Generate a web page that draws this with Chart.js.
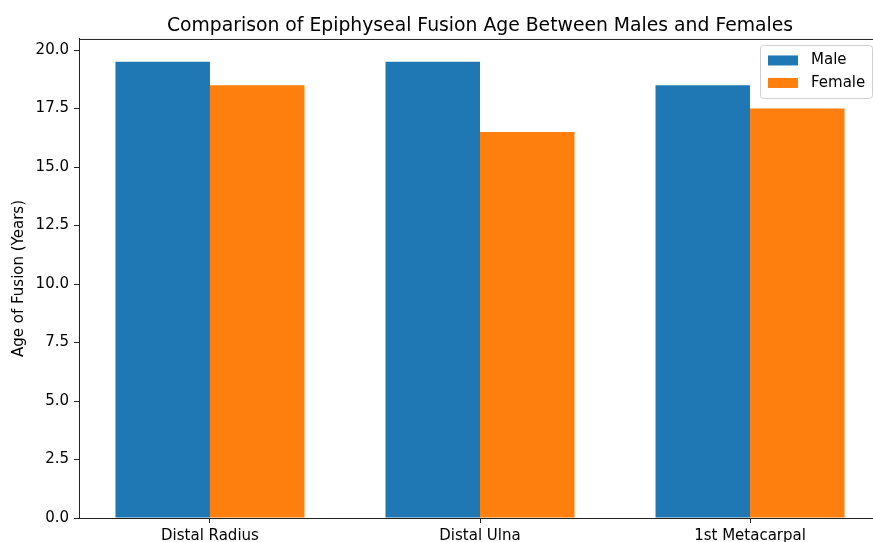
<!DOCTYPE html>
<html>
<head>
<meta charset="utf-8">
<script src="https://cdn.jsdelivr.net/npm/chart.js@4"></script>
<style>
  html, body { margin: 0; padding: 0; background: #fff; overflow: hidden; }
  canvas { display: block; }
</style>
</head>
<body>
<canvas id="fusion-chart" width="895" height="570"></canvas>
<script>
const categories = ["Distal Radius", "Distal Ulna", "1st Metacarpal"];
const maleAges = [19.5, 19.5, 18.5];
const femaleAges = [18.5, 16.5, 17.5];
const yTicks = [0, 2.5, 5, 7.5, 10, 12.5, 15, 17.5, 20];

const FONT = "'DejaVu Sans', sans-serif";

// matplotlib-like frame (all four spines) and a boxed legend inside the axes
const framePlugin = {
  id: "frame",
  afterDraw(chart) {
    const { ctx, chartArea } = chart;
    ctx.save();
    ctx.strokeStyle = "#222";
    ctx.lineWidth = 1;
    ctx.strokeRect(chartArea.left + 0.5, chartArea.top + 0.5,
      chartArea.right - chartArea.left, chartArea.bottom - chartArea.top);

    const boxW = 112, boxH = 53;
    const x0 = chartArea.right - 9 - boxW;
    const y0 = chartArea.top + 6;
    ctx.fillStyle = "rgba(255,255,255,0.85)";
    ctx.strokeStyle = "#d0d0d0";
    ctx.beginPath();
    ctx.roundRect(x0 + 0.5, y0 + 0.5, boxW, boxH, 3);
    ctx.fill();
    ctx.stroke();

    ctx.font = "15px " + FONT;
    ctx.textBaseline = "middle";
    chart.data.datasets.forEach((ds, i) => {
      const cy = y0 + 15.5 + i * 22.5;
      ctx.fillStyle = ds.backgroundColor;
      ctx.fillRect(x0 + 8, cy - 5, 30, 10);
      ctx.fillStyle = "#000";
      ctx.fillText(ds.label, x0 + 51, cy);
    });
    ctx.restore();
  }
};

new Chart(document.getElementById("fusion-chart"), {
  type: "bar",
  data: {
    datasets: [
      {
        label: "Male",
        data: maleAges.map((v, i) => ({ x: i, y: v })),
        backgroundColor: "#1f77b4",
        borderWidth: 0
      },
      {
        label: "Female",
        data: femaleAges.map((v, i) => ({ x: i, y: v })),
        backgroundColor: "#ff7f0e",
        borderWidth: 0
      }
    ]
  },
  options: {
    responsive: false,
    animation: false,
    devicePixelRatio: 1,
    layout: { padding: { left: 0, top: 0, right: 14, bottom: 0 } },
    datasets: {
      bar: { categoryPercentage: 0.7, barPercentage: 1.0 }
    },
    plugins: {
      legend: { display: false },
      tooltip: { enabled: false },
      title: {
        display: true,
        fullSize: false,
        text: "Comparison of Epiphyseal Fusion Age Between Males and Females",
        color: "#000",
        font: { family: FONT, size: 18.8, weight: "normal" },
        padding: { top: 14.5, bottom: 1.9 }
      }
    },
    scales: {
      x: {
        type: "linear",
        offset: false,
        min: -0.485,
        max: 2.485,
        afterBuildTicks(scale) {
          scale.ticks = categories.map((_, i) => ({ value: i }));
        },
        afterFit(scale) {
          scale.height = 52;
        },
        ticks: {
          color: "#000",
          font: { family: FONT, size: 15 },
          padding: 4,
          maxRotation: 0,
          autoSkip: false,
          callback: (v) => categories[v]
        },
        grid: {
          offset: false,
          drawOnChartArea: false,
          drawTicks: true,
          tickLength: 5,
          color: "#222"
        },
        border: { display: true, color: "#222", width: 1 }
      },
      y: {
        min: 0,
        max: 20.475,
        afterBuildTicks(scale) {
          scale.ticks = yTicks.map((v) => ({ value: v }));
        },
        afterFit(scale) {
          scale.width = 79;
        },
        ticks: {
          color: "#000",
          font: { family: FONT, size: 15 },
          padding: 5,
          callback: (v) => v.toFixed(1)
        },
        grid: {
          drawOnChartArea: false,
          drawTicks: true,
          tickLength: 5,
          color: "#222"
        },
        border: { display: true, color: "#222", width: 1 },
        title: {
          display: true,
          text: "Age of Fusion (Years)",
          color: "#000",
          font: { family: FONT, size: 15 },
          padding: { top: 10, bottom: 0 }
        }
      }
    }
  },
  plugins: [framePlugin]
});
</script>
</body>
</html>
